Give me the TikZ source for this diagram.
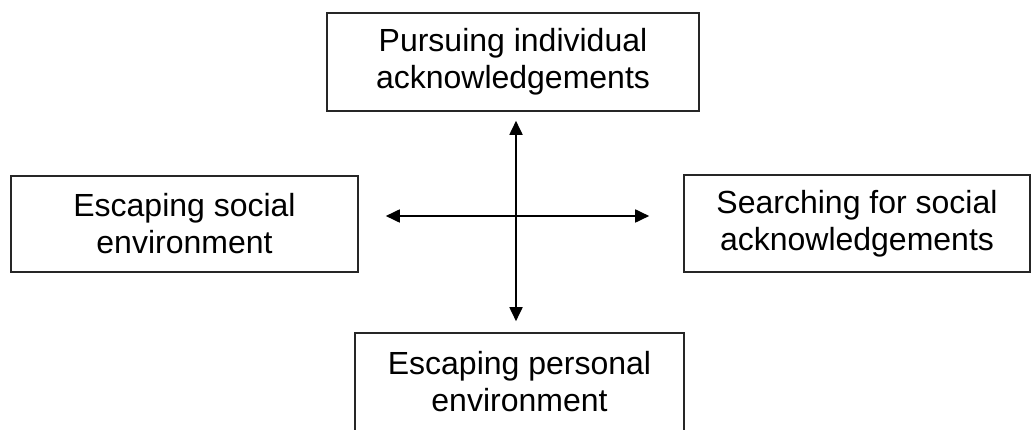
\documentclass[tikz,border=0pt]{standalone}
\usepackage{fontspec}
\setmainfont{Liberation Sans}
\usetikzlibrary{arrows.meta}
\begin{document}
\begin{tikzpicture}[x=1pt,y=-1pt,
  box/.style={draw=black!85, line width=1.6pt, rectangle, inner sep=0pt, align=center,
    font=\fontsize{32}{37}\selectfont},
  link/.style={line width=1.8pt, {Triangle[length=14pt,width=13pt]}-{Triangle[length=14pt,width=13pt]}}]
\useasboundingbox (0,0) rectangle (1031,430);
\begin{scope}
\clip (0,0) rectangle (1031,430);
\node[box, minimum width=372pt, minimum height=98pt] (top) at (513,62) {Pursuing individual\\acknowledgements};
\node[box, minimum width=347pt, minimum height=96pt] (left) at (184.5,224) {Escaping social\\environment};
\node[box, minimum width=346pt, minimum height=97pt] (right) at (857,223.5) {Searching for social\\acknowledgements};
\node[box, minimum width=329pt, minimum height=98pt] (bot) at (519.5,382) {Escaping personal\\environment};
\coordinate (c) at (516,216);
\draw[link] (top.south -| c) ++(0,9) -- ([yshift=11pt]bot.north -| c);
\draw[link] (left.east |- c) ++(27,0) -- ([xshift=-34pt]right.west |- c);
\end{scope}
\end{tikzpicture}
\end{document}
